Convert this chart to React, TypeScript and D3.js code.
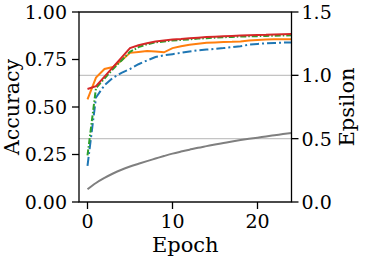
import * as d3 from 'd3';

// epochs 0..24
const epochs = d3.range(0, 25);

const accBlue = [0.19, 0.55, 0.615, 0.654, 0.68, 0.70, 0.725, 0.745, 0.763, 0.772, 0.778, 0.785, 0.792, 0.798, 0.802, 0.806, 0.81, 0.815, 0.82, 0.828, 0.832, 0.835, 0.837, 0.839, 0.84];
const accOrange = [0.54, 0.655, 0.70, 0.71, 0.745, 0.785, 0.79, 0.795, 0.792, 0.788, 0.81, 0.82, 0.828, 0.833, 0.838, 0.84, 0.842, 0.843, 0.845, 0.85, 0.853, 0.855, 0.857, 0.857, 0.856];
const accGreen = [0.245, 0.60, 0.65, 0.70, 0.745, 0.79, 0.815, 0.83, 0.84, 0.845, 0.85, 0.853, 0.856, 0.86, 0.862, 0.865, 0.867, 0.869, 0.871, 0.872, 0.873, 0.874, 0.875, 0.876, 0.877];
const accRed = [0.595, 0.61, 0.66, 0.71, 0.76, 0.81, 0.825, 0.835, 0.845, 0.85, 0.855, 0.858, 0.862, 0.865, 0.868, 0.87, 0.872, 0.874, 0.876, 0.878, 0.879, 0.88, 0.882, 0.883, 0.884];
const epsilon = [0.10, 0.15, 0.19, 0.225, 0.255, 0.28, 0.302, 0.323, 0.343, 0.363, 0.382, 0.398, 0.413, 0.428, 0.441, 0.454, 0.466, 0.478, 0.489, 0.499, 0.508, 0.518, 0.527, 0.536, 0.545];

const xTicks = [0, 10, 20];
const accTicks = [0, 0.25, 0.5, 0.75, 1.0];
const epsTicks = [0, 0.5, 1.0, 1.5];

const font = 'DejaVu Serif';
const fs = 19;
const labelFs = 21;

export default function App() {
  const W = 371, H = 266;
  const left = 79, right = 291.5, top = 12, bottom = 202;

  const x = d3.scaleLinear().domain([-1, 24]).range([left, right]);
  const yAcc = d3.scaleLinear().domain([0, 1]).range([bottom, top]);
  const yEps = d3.scaleLinear().domain([0, 1.5]).range([bottom, top]);

  const accLine = d3.line<number>().x((_, i) => x(epochs[i])).y(d => yAcc(d));
  const epsLine = d3.line<number>().x((_, i) => x(epochs[i])).y(d => yEps(d)).curve(d3.curveMonotoneX);

  const series = [
    { data: accBlue, color: '#1f77b4', dash: '9,3,2,3' },
    { data: accOrange, color: '#ff7f0e', dash: undefined },
    { data: accGreen, color: '#2ca02c', dash: '6,2,1.5,2' },
    { data: accRed, color: '#d62728', dash: undefined },
  ];

  return (
    <svg width={W} height={H} style={{ position: 'absolute', left: 0, top: 0, background: '#fff' }}
      fontFamily={font} fontSize={fs}>
      <defs>
        <clipPath id="plot">
          <rect x={left} y={top} width={right - left} height={bottom - top} />
        </clipPath>
      </defs>
      {/* grid from epsilon axis */}
      {epsTicks.map(t => (
        <line key={'g' + t} x1={left} x2={right} y1={yEps(t)} y2={yEps(t)} stroke="#c4c4c4" strokeWidth={1.4} />
      ))}
      <g clipPath="url(#plot)" fill="none" strokeWidth={2}>
        <path d={epsLine(epsilon) || ''} stroke="#7f7f7f" />
        {series.map((s, i) => (
          <path key={i} d={accLine(s.data) || ''} stroke={s.color} strokeDasharray={s.dash} />
        ))}
      </g>
      {/* spines */}
      <rect x={left} y={top} width={right - left} height={bottom - top} fill="none" stroke="#000" strokeWidth={1.3} />
      {/* left axis */}
      {accTicks.map(t => (
        <g key={'a' + t}>
          <line x1={left - 7} x2={left} y1={yAcc(t)} y2={yAcc(t)} stroke="#000" strokeWidth={1.3} />
          <text x={left - 12} y={yAcc(t)} dy="0.36em" textAnchor="end">{t.toFixed(2)}</text>
        </g>
      ))}
      {/* right axis */}
      {epsTicks.map(t => (
        <g key={'e' + t}>
          <line x1={right} x2={right + 7} y1={yEps(t)} y2={yEps(t)} stroke="#000" strokeWidth={1.3} />
          <text x={right + 10} y={yEps(t)} dy="0.36em" textAnchor="start">{t.toFixed(1)}</text>
        </g>
      ))}
      {/* bottom axis */}
      {xTicks.map(t => (
        <g key={'x' + t}>
          <line x1={x(t)} x2={x(t)} y1={bottom} y2={bottom + 7} stroke="#000" strokeWidth={1.3} />
          <text x={x(t)} y={228} textAnchor="middle">{t}</text>
        </g>
      ))}
      <text x={(left + right) / 2} y={252} textAnchor="middle" fontSize={labelFs}>Epoch</text>
      <text transform={`translate(18.5,${(top + bottom) / 2}) rotate(-90)`} textAnchor="middle" fontSize={20.5}>Accuracy</text>
      <text transform={`translate(354,${(top + bottom) / 2}) rotate(-90)`} textAnchor="middle" fontSize={labelFs}>Epsilon</text>
    </svg>
  );
}
